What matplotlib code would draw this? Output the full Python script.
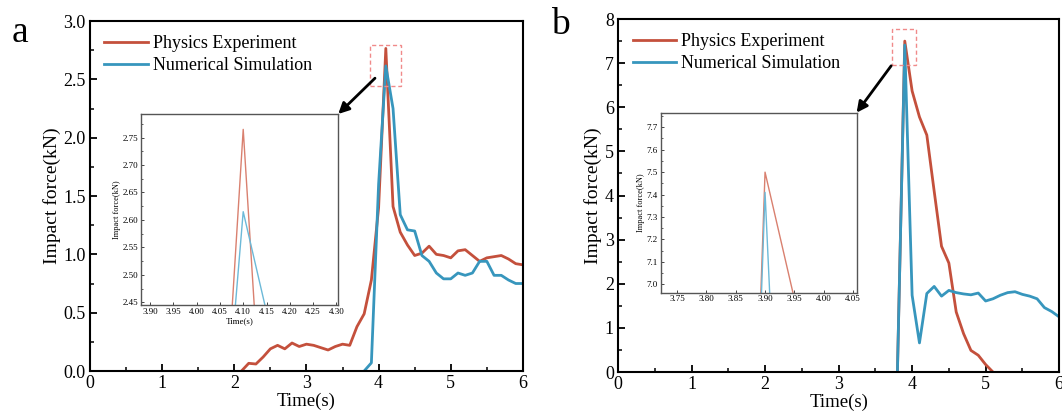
import matplotlib.pyplot as plt
from matplotlib.ticker import MultipleLocator, FormatStrFormatter
from matplotlib.patches import Rectangle

plt.rcParams['font.family'] = ['Liberation Serif', 'DejaVu Serif']

# panel a data
timeA_exp = [2.1, 2.2, 2.3, 2.4, 2.5, 2.6, 2.7, 2.8, 2.9, 3.0,
             3.1, 3.2, 3.3, 3.4, 3.5, 3.6, 3.7, 3.8, 3.9, 4.0,
             4.1, 4.2, 4.3, 4.4, 4.5, 4.6, 4.7, 4.8, 4.9, 5.0,
             5.1, 5.2, 5.3, 5.4, 5.5, 5.6, 5.7, 5.8, 5.9, 6.0]
forceA_exp = [0.0, 0.066, 0.06, 0.12, 0.19, 0.22, 0.19, 0.24, 0.21, 0.23,
              0.22, 0.20, 0.18, 0.21, 0.23, 0.22, 0.38, 0.49, 0.78, 1.40,
              2.765, 1.41, 1.19, 1.08, 0.99, 1.01, 1.07, 1.00, 0.99, 0.97,
              1.03, 1.04, 0.99, 0.94, 0.97, 0.98, 0.99, 0.96, 0.92, 0.91]
timeA_sim = [3.8, 3.9, 4.0, 4.1, 4.2, 4.3, 4.4, 4.5, 4.6, 4.7, 4.8, 4.9,
             5.0, 5.1, 5.2, 5.3, 5.4, 5.5, 5.6, 5.7, 5.8, 5.9, 6.0]
forceA_sim = [0.0, 0.07, 1.60, 2.615, 2.25, 1.34, 1.21, 1.20, 0.99, 0.94, 0.84, 0.79,
              0.79, 0.84, 0.82, 0.84, 0.94, 0.94, 0.82, 0.82, 0.78, 0.75, 0.75]

# panel b data
timeB_exp = [3.8, 3.9, 4.0, 4.1, 4.2, 4.3, 4.4, 4.5, 4.6, 4.7, 4.8, 4.9, 5.0, 5.1]
forceB_exp = [0.0, 7.5, 6.37, 5.78, 5.37, 4.10, 2.85, 2.47, 1.36, 0.87, 0.49, 0.38, 0.17, 0.0]
timeB_sim = [3.8, 3.9, 4.0, 4.1, 4.2, 4.3, 4.4, 4.5, 4.6, 4.7, 4.8, 4.9,
             5.0, 5.1, 5.2, 5.3, 5.4, 5.5, 5.6, 5.7, 5.8, 5.9, 6.0]
forceB_sim = [0.0, 7.41, 1.74, 0.66, 1.78, 1.94, 1.72, 1.85, 1.80, 1.77, 1.75, 1.79,
              1.61, 1.66, 1.74, 1.80, 1.82, 1.76, 1.72, 1.66, 1.46, 1.37, 1.25]

labels = ['Physics Experiment', 'Numerical Simulation']
red = '#c4503c'
blue = '#3796bd'
red_light = '#d9806f'
blue_light = '#6cb9d8'


def mainPanel(ax, tExp, fExp, tSim, fSim, ymax, ymajor, yfmt):
    ax.plot(tExp, fExp, color=red, lw=2, label=labels[0])
    ax.plot(tSim, fSim, color=blue, lw=2, label=labels[1])
    ax.set_xlim(0, 6)
    ax.set_ylim(0, ymax)
    ax.xaxis.set_major_locator(MultipleLocator(1))
    ax.xaxis.set_minor_locator(MultipleLocator(0.5))
    ax.yaxis.set_major_locator(MultipleLocator(ymajor))
    ax.yaxis.set_minor_locator(MultipleLocator(ymajor / 2))
    ax.yaxis.set_major_formatter(FormatStrFormatter(yfmt))
    ax.tick_params(which='major', direction='in', length=5, width=1.3, labelsize=13, pad=3)
    ax.tick_params(which='minor', direction='in', length=3, width=1.1)
    for s in ax.spines.values():
        s.set_linewidth(1.5)
    ax.set_xlabel('Time(s)', fontsize=13.5, labelpad=0.5)
    ax.set_ylabel('Impact force(kN)', fontsize=14, labelpad=2)
    ax.legend(loc='upper left', frameon=False, fontsize=13, handlelength=2.4,
              handletextpad=0.3, labelspacing=0.25, borderaxespad=0.4)


def insetPanel(ax, main, tExp, fExp, tSim, fSim, xlim, ylim, xticks, ymajor, yfmt, xlabel):
    ax.plot(tExp, fExp, color=red_light, lw=1)
    ax.plot(tSim, fSim, color=blue_light, lw=1)
    ax.plot([], [], color=red_light, lw=1, label=labels[0])
    ax.plot([], [], color=blue_light, lw=1, label=labels[1])
    ax.set_xlim(*xlim)
    ax.set_ylim(*ylim)
    ax.set_xticks(xticks)
    ax.xaxis.set_major_formatter(FormatStrFormatter('%.2f'))
    ax.yaxis.set_major_locator(MultipleLocator(ymajor))
    ax.yaxis.set_minor_locator(MultipleLocator(ymajor / 2))
    ax.yaxis.set_major_formatter(FormatStrFormatter(yfmt))
    ax.tick_params(which='major', direction='in', length=2.5, width=0.7, labelsize=6.5, pad=2,
                   color='#444444')
    ax.tick_params(which='minor', direction='in', length=1.5, width=0.6, color='#444444')
    for s in ax.spines.values():
        s.set_linewidth(1)
        s.set_color('#555555')
    ax.set_ylabel('Impact force(kN)', fontsize=6, labelpad=1)
    if xlabel:
        ax.set_xlabel('Time(s)', fontsize=6.5, labelpad=1)
    handles, labs = ax.get_legend_handles_labels()
    ax.legend(handles[2:], labs[2:], loc='upper left', frameon=False, fontsize=6.3,
              handlelength=2.6, handletextpad=0.3, labelspacing=0.25,
              borderaxespad=0.3, borderpad=0.3)
    # dashed zoom box on the main panel
    main.add_patch(Rectangle((xlim[0], ylim[0]), xlim[1] - xlim[0], ylim[1] - ylim[0],
                             fill=False, ls=(0, (3, 2)), ec='#f08a8a', lw=1, zorder=5))


fig = plt.figure(figsize=(10.62, 4.12), dpi=100)
axA = fig.add_axes([0.0847, 0.0995, 0.4077, 0.8495])
axB = fig.add_axes([0.582, 0.097, 0.4153, 0.8568])

mainPanel(axA, timeA_exp, forceA_exp, timeA_sim, forceA_sim, 3.0, 0.5, '%.1f')
mainPanel(axB, timeB_exp, forceB_exp, timeB_sim, forceB_sim, 8, 1, '%d')

insA = fig.add_axes([0.1325, 0.2597, 0.186, 0.4636])
insetPanel(insA, axA, timeA_exp, forceA_exp, timeA_sim, forceA_sim,
           (3.88, 4.304), (2.445, 2.793),
           [3.90, 3.95, 4.00, 4.05, 4.10, 4.15, 4.20, 4.25, 4.30], 0.05, '%.2f', True)

insB = fig.add_axes([0.622, 0.2896, 0.1846, 0.4369])
insetPanel(insB, axB, timeB_exp, forceB_exp, timeB_sim, forceB_sim,
           (3.722, 4.056), (6.963, 7.765),
           [3.75, 3.80, 3.85, 3.90, 3.95, 4.00, 4.05], 0.1, '%.1f', False)

# arrows from zoom box to inset
for ax, ins, tail in [(axA, insA, (3.95, 2.51)), (axB, insB, (3.715, 6.94))]:
    ax.annotate('', xy=(1, 1), xycoords=ins.transAxes, xytext=tail, textcoords='data',
                arrowprops=dict(arrowstyle='-|>', color='black', lw=2, mutation_scale=16,
                                shrinkA=0, shrinkB=0),
                annotation_clip=False, zorder=10)

fig.text(0.011, 0.898, 'a', fontsize=27, va='baseline')
fig.text(0.519, 0.918, 'b', fontsize=27, va='baseline')

plt.savefig('out.png', dpi=100)
